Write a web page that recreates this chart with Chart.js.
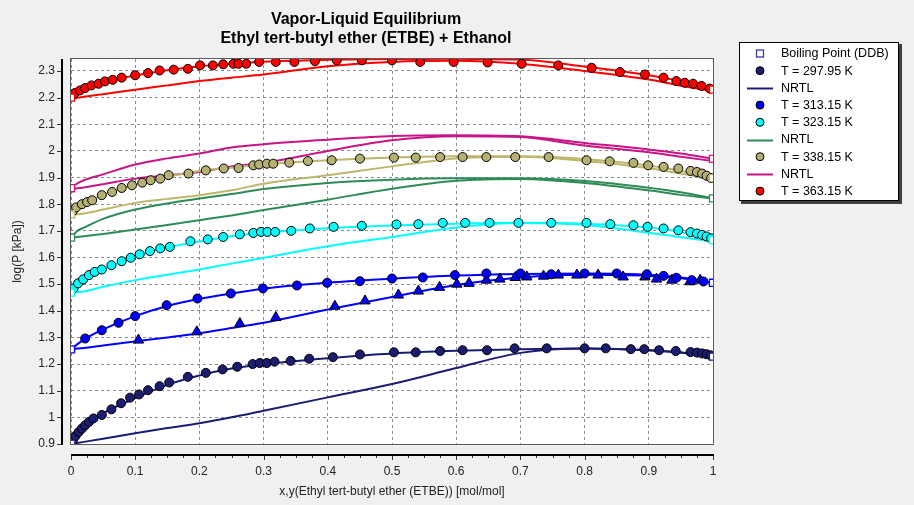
<!DOCTYPE html>
<html>
<head>
<meta charset="utf-8">
<script src="https://cdn.jsdelivr.net/npm/chart.js@4.4.1/dist/chart.umd.min.js"></script>
<style>
html,body{margin:0;padding:0;background:#f0f0f0;}
#wrap{width:914px;height:505px;position:relative;}
</style>
</head>
<body>
<div id="wrap"><canvas id="c" width="914" height="505"></canvas></div>
<script>
// ---------- text ----------
const titleLines = ['Vapor-Liquid Equilibrium', 'Ethyl tert-butyl ether (ETBE) + Ethanol'];
const xAxisTitle = 'x,y(Ethyl tert-butyl ether (ETBE)) [mol/mol]';
const yAxisTitle = 'log(P [kPa])';

// ---------- ticks ----------
const xTicks = [0, 0.1, 0.2, 0.3, 0.4, 0.5, 0.6, 0.7, 0.8, 0.9, 1];
const xTickLabels = ['0', '0.1', '0.2', '0.3', '0.4', '0.5', '0.6', '0.7', '0.8', '0.9', '1'];
const yTicks = [0.9, 1.0, 1.1, 1.2, 1.3, 1.4, 1.5, 1.6, 1.7, 1.8, 1.9, 2.0, 2.1, 2.2, 2.3];
const yTickLabels = ['0.9', '1', '1.1', '1.2', '1.3', '1.4', '1.5', '1.6', '1.7', '1.8', '1.9', '2', '2.1', '2.2', '2.3'];

// ---------- boiling points (pure components) ----------
const bpX = [0, 0, 0, 0, 0, 0, 0, 1, 1, 1, 1, 1, 1, 1];
const bpY = [0.90, 1.255, 1.468, 1.675, 1.762, 1.860, 2.200, 1.228, 1.505, 1.665, 1.822, 1.898, 1.970, 2.230];

// ---------- experimental points ----------
const pts29795_x = [0.003,0.007,0.012,0.017,0.022,0.028,0.035,0.048,0.063,0.078,0.092,0.106,0.120,0.138,0.153,0.182,0.210,0.236,0.259,0.283,0.294,0.305,0.317,0.342,0.371,0.408,0.450,0.503,0.537,0.575,0.610,0.648,0.691,0.741,0.800,0.833,0.872,0.893,0.916,0.942,0.965,0.975,0.983,0.990,0.996];
const pts29795_y = [0.915,0.930,0.945,0.958,0.970,0.983,0.996,1.009,1.030,1.053,1.074,1.086,1.102,1.117,1.131,1.152,1.167,1.180,1.190,1.200,1.204,1.204,1.209,1.212,1.220,1.226,1.236,1.244,1.244,1.249,1.252,1.252,1.259,1.259,1.259,1.259,1.256,1.256,1.252,1.249,1.245,1.243,1.240,1.237,1.233];

const pts31315_x = [0.022,0.048,0.074,0.100,0.149,0.197,0.249,0.299,0.352,0.399,0.450,0.500,0.548,0.598,0.647,0.700,0.748,0.800,0.850,0.897,0.923,0.943,0.967,0.985];
const pts31315_y = [1.296,1.327,1.355,1.380,1.421,1.446,1.465,1.484,1.495,1.505,1.511,1.521,1.525,1.534,1.540,1.540,1.537,1.540,1.540,1.537,1.531,1.524,1.515,1.510];
const vap31315_x = [0.105,0.196,0.263,0.319,0.411,0.458,0.510,0.541,0.574,0.601,0.620,0.647,0.668,0.692,0.710,0.736,0.759,0.788,0.821,0.860,0.894,0.912,0.936,0.964,0.980];
const vap31315_y = [1.290,1.321,1.352,1.375,1.417,1.437,1.459,1.474,1.488,1.500,1.503,1.515,1.519,1.525,1.527,1.530,1.534,1.534,1.534,1.527,1.527,1.519,1.515,1.509,1.515];

const pts32315_x = [0.004,0.011,0.019,0.028,0.037,0.048,0.063,0.079,0.093,0.107,0.123,0.139,0.154,0.186,0.213,0.237,0.263,0.284,0.296,0.306,0.318,0.343,0.372,0.409,0.453,0.507,0.541,0.579,0.614,0.652,0.697,0.748,0.803,0.840,0.876,0.898,0.923,0.946,0.965,0.975,0.983,0.990,0.997];
const pts32315_y = [1.484,1.503,1.518,1.534,1.546,1.555,1.571,1.586,1.599,1.612,1.624,1.634,1.640,1.661,1.668,1.677,1.687,1.692,1.696,1.696,1.696,1.700,1.709,1.715,1.719,1.724,1.725,1.730,1.730,1.730,1.730,1.730,1.730,1.725,1.721,1.715,1.709,1.702,1.695,1.690,1.685,1.679,1.672];

const pts33815_x = [0.003,0.008,0.017,0.025,0.033,0.048,0.064,0.079,0.095,0.111,0.124,0.139,0.152,0.183,0.210,0.238,0.261,0.284,0.293,0.305,0.315,0.340,0.369,0.406,0.450,0.503,0.537,0.575,0.610,0.647,0.692,0.744,0.803,0.839,0.876,0.899,0.923,0.946,0.965,0.975,0.983,0.990,0.997];
const pts33815_y = [1.775,1.788,1.800,1.808,1.815,1.834,1.846,1.861,1.871,1.881,1.890,1.896,1.909,1.915,1.927,1.934,1.936,1.946,1.949,1.952,1.952,1.956,1.962,1.965,1.971,1.975,1.975,1.977,1.977,1.977,1.977,1.977,1.965,1.961,1.955,1.946,1.940,1.934,1.925,1.921,1.915,1.907,1.898];

const pts36315_x = [0.002,0.006,0.014,0.022,0.032,0.043,0.053,0.065,0.079,0.100,0.120,0.138,0.160,0.182,0.201,0.221,0.237,0.253,0.261,0.273,0.293,0.319,0.348,0.380,0.414,0.453,0.500,0.544,0.596,0.649,0.702,0.759,0.811,0.855,0.894,0.923,0.943,0.956,0.969,0.982,0.995];
const pts36315_y = [2.209,2.217,2.227,2.236,2.246,2.252,2.261,2.267,2.275,2.284,2.292,2.302,2.305,2.308,2.321,2.321,2.325,2.327,2.327,2.327,2.334,2.334,2.334,2.337,2.340,2.340,2.340,2.334,2.334,2.332,2.327,2.321,2.312,2.296,2.287,2.275,2.262,2.256,2.252,2.244,2.234];

// ---------- NRTL model curves (bubble = liquid, dew = vapour) ----------
const nrtlX = [0, 0.01, 0.02, 0.05, 0.1, 0.15, 0.2, 0.25, 0.3, 0.4, 0.5, 0.6, 0.7, 0.8, 0.9, 0.95, 1];
const nrtl29795_bubble = [0.900,0.935,0.962,1.015,1.072,1.122,1.157,1.183,1.199,1.222,1.240,1.250,1.256,1.258,1.252,1.243,1.228];
const nrtl29795_dew    = [0.900,0.904,0.908,0.920,0.940,0.960,0.978,1.000,1.025,1.075,1.125,1.185,1.242,1.258,1.252,1.243,1.228];
const nrtl31315_bubble = [1.255,1.275,1.292,1.330,1.380,1.418,1.445,1.465,1.483,1.505,1.520,1.532,1.538,1.540,1.535,1.525,1.505];
const nrtl31315_dew    = [1.255,1.258,1.260,1.270,1.285,1.300,1.316,1.335,1.355,1.405,1.452,1.497,1.525,1.535,1.531,1.522,1.505];
const nrtl32315_bubble = [1.468,1.500,1.518,1.555,1.603,1.638,1.660,1.680,1.693,1.710,1.720,1.727,1.730,1.727,1.713,1.696,1.665];
const nrtl32315_dew    = [1.468,1.470,1.472,1.490,1.515,1.535,1.555,1.577,1.599,1.642,1.677,1.713,1.729,1.722,1.693,1.676,1.660];
const nrtlG_bubble     = [1.675,1.700,1.712,1.745,1.780,1.803,1.821,1.838,1.857,1.880,1.892,1.897,1.897,1.887,1.862,1.845,1.822];
const nrtlG_dew        = [1.675,1.677,1.680,1.688,1.705,1.722,1.740,1.758,1.778,1.817,1.858,1.888,1.895,1.880,1.852,1.835,1.822];
const nrtl33815_bubble = [1.763,1.785,1.800,1.835,1.873,1.903,1.925,1.937,1.950,1.965,1.975,1.980,1.980,1.970,1.945,1.925,1.898];
const nrtl33815_dew    = [1.760,1.762,1.765,1.780,1.805,1.820,1.834,1.852,1.877,1.909,1.942,1.972,1.978,1.962,1.935,1.915,1.895];
const nrtlP_bubble     = [1.862,1.878,1.890,1.912,1.949,1.972,1.990,2.013,2.025,2.042,2.056,2.059,2.055,2.030,2.005,1.990,1.970];
const nrtlP_dew        = [1.858,1.860,1.863,1.875,1.896,1.908,1.921,1.942,1.955,2.000,2.040,2.055,2.052,2.020,1.995,1.978,1.962];
const nrtl36315_bubble = [2.202,2.222,2.233,2.258,2.283,2.303,2.318,2.327,2.335,2.342,2.345,2.346,2.343,2.317,2.284,2.262,2.235];
const nrtl36315_dew    = [2.198,2.200,2.203,2.213,2.230,2.246,2.262,2.275,2.287,2.318,2.334,2.338,2.327,2.300,2.268,2.245,2.225];

// ---------- helpers ----------
const xy = (xs, ys) => xs.map((x, i) => ({x: x, y: ys[i]}));
const FONT = '"Liberation Sans", Arial, sans-serif';
const C = {
  navy: '#1c1c72', blue: '#0000ff', cyan: '#00ffff', green: '#2e8b57',
  khakiPt: '#b7b073', khaki: '#bdb76b', pink: '#c71585', red: '#ff0000', bp: '#3a3aa8'
};
const bpColors = [C.bp, C.blue, C.cyan, C.green, C.khaki, C.pink, C.red, C.navy, C.blue, C.cyan, C.green, C.khaki, C.pink, C.red];

function pts(label, data, color, style, legend) {
  return {label: label, data: data, showLine: false, pointStyle: style || 'circle',
    pointRadius: style === 'triangle' ? 6 : 4.5, pointHoverRadius: 4.5,
    pointBackgroundColor: color, pointBorderColor: '#000', pointBorderWidth: 1,
    backgroundColor: color, borderColor: '#000', legendItem: legend};
}
function line(label, data, color, legend) {
  return {label: label, data: data, showLine: true, pointRadius: 0, pointHoverRadius: 0,
    borderColor: color, backgroundColor: color, borderWidth: 2, fill: false,
    cubicInterpolationMode: 'monotone', legendItem: legend};
}

const datasets = [
  {label: 'Boiling Point (DDB)', data: xy(bpX, bpY), showLine: false, pointStyle: 'rect',
   pointRadius: 5, pointBackgroundColor: '#ffffff', pointBorderColor: bpColors, pointBorderWidth: 1.3,
   legendItem: {kind: 'rect', color: C.bp}},
  pts('T = 297.95 K', xy(pts29795_x, pts29795_y), C.navy, 'circle', {kind: 'circle', color: C.navy}),
  line('NRTL', xy(nrtlX, nrtl29795_bubble), C.navy, {kind: 'line', color: C.navy}),
  pts('T = 313.15 K', xy(pts31315_x, pts31315_y), C.blue, 'circle', {kind: 'circle', color: C.blue}),
  pts('T = 323.15 K', xy(pts32315_x, pts32315_y), C.cyan, 'circle', {kind: 'circle', color: C.cyan}),
  line('NRTL', xy(nrtlX, nrtlG_bubble), C.green, {kind: 'line', color: C.green}),
  pts('T = 338.15 K', xy(pts33815_x, pts33815_y), C.khakiPt, 'circle', {kind: 'circle', color: C.khakiPt}),
  line('NRTL', xy(nrtlX, nrtlP_bubble), C.pink, {kind: 'line', color: C.pink}),
  pts('T = 363.15 K', xy(pts36315_x, pts36315_y), C.red, 'circle', {kind: 'circle', color: C.red}),
  pts('y 313.15 K', xy(vap31315_x, vap31315_y), C.blue, 'triangle', null),
  line('NRTL dew 297.95', xy(nrtlX, nrtl29795_dew), C.navy, null),
  line('NRTL 313.15', xy(nrtlX, nrtl31315_bubble), C.blue, null),
  line('NRTL dew 313.15', xy(nrtlX, nrtl31315_dew), C.blue, null),
  line('NRTL 323.15', xy(nrtlX, nrtl32315_bubble), C.cyan, null),
  line('NRTL dew 323.15', xy(nrtlX, nrtl32315_dew), C.cyan, null),
  line('NRTL dew G', xy(nrtlX, nrtlG_dew), C.green, null),
  line('NRTL 338.15', xy(nrtlX, nrtl33815_bubble), C.khaki, null),
  line('NRTL dew 338.15', xy(nrtlX, nrtl33815_dew), C.khaki, null),
  line('NRTL dew P', xy(nrtlX, nrtlP_dew), C.pink, null),
  line('NRTL 363.15', xy(nrtlX, nrtl36315_bubble), C.red, null),
  line('NRTL dew 363.15', xy(nrtlX, nrtl36315_dew), C.red, null)
];

const labelFor = (vals, labels) => (v) => {
  const i = vals.findIndex(t => Math.abs(t - v) < 1e-9);
  return i >= 0 ? labels[i] : '';
};

// ---------- custom drawing: background, frame, axes lines, title, legend ----------
const decor = {
  id: 'decor',
  beforeDraw(chart) {
    const {ctx, chartArea: a} = chart;
    ctx.save();
    ctx.fillStyle = '#f0f0f0';
    ctx.fillRect(0, 0, chart.width, chart.height);
    ctx.fillStyle = '#ffffff';
    ctx.fillRect(a.left, a.top, a.right - a.left, a.bottom - a.top);
    ctx.restore();
  },
  afterDraw(chart) {
    const {ctx, chartArea: a, scales} = chart;
    ctx.save();
    // plot frame
    ctx.strokeStyle = '#5a5a5a';
    ctx.lineWidth = 1;
    ctx.strokeRect(a.left - 0.5, a.top - 0.5, a.right - a.left + 1, a.bottom - a.top + 1);
    // y axis line + ticks
    const yAx = a.left - 10;
    ctx.fillStyle = '#000';
    ctx.fillRect(yAx, a.top, 2, a.bottom - a.top + 1);
    ctx.fillStyle = '#333';
    yTicks.forEach(v => {
      const py = Math.round(scales.y.getPixelForValue(v));
      ctx.fillRect(yAx - 4, py, 4, 1);
    });
    // x axis line + ticks
    const xAy = a.bottom + 10;
    ctx.fillStyle = '#000';
    ctx.fillRect(a.left, xAy, a.right - a.left + 1, 2);
    ctx.fillStyle = '#333';
    for (let k = 0; k <= 40; k++) {
      const px = Math.round(scales.x.getPixelForValue(k / 40));
      ctx.fillRect(px, xAy + 2, 1, k % 4 === 0 ? 4 : 2);
    }
    // title
    ctx.fillStyle = '#000';
    ctx.textAlign = 'center';
    ctx.textBaseline = 'middle';
    ctx.font = 'bold 16px ' + FONT;
    ctx.fillText(titleLines[0], 366, 20);
    ctx.fillText(titleLines[1], 366, 39);
    // legend
    const items = chart.data.datasets.filter(d => d.legendItem);
    const bx = 739, by = 42, bw = 160, bh = 159;
    ctx.fillStyle = '#404040';
    ctx.fillRect(bx + 2, by + 2, bw + 1, bh + 1);
    ctx.fillStyle = '#ffffff';
    ctx.fillRect(bx, by, bw, bh);
    ctx.strokeStyle = '#000';
    ctx.lineWidth = 1;
    ctx.strokeRect(bx + 0.5, by + 0.5, bw - 1, bh - 1);
    ctx.font = '12.5px ' + FONT;
    ctx.textAlign = 'left';
    ctx.textBaseline = 'middle';
    items.forEach((d, i) => {
      const cy = 53.5 + i * 17.2;
      const it = d.legendItem;
      if (it.kind === 'line') {
        ctx.strokeStyle = it.color; ctx.lineWidth = 2;
        ctx.beginPath(); ctx.moveTo(747, Math.round(cy) + 0.5); ctx.lineTo(773, Math.round(cy) + 0.5); ctx.stroke();
      } else if (it.kind === 'rect') {
        ctx.fillStyle = '#fff'; ctx.strokeStyle = it.color; ctx.lineWidth = 1.3;
        ctx.fillRect(756, cy - 4, 8, 8);
        ctx.strokeRect(756.5, cy - 3.5, 7, 7);
      } else {
        ctx.fillStyle = it.color; ctx.strokeStyle = '#000'; ctx.lineWidth = 1;
        ctx.beginPath(); ctx.arc(760, cy, 4, 0, Math.PI * 2); ctx.fill(); ctx.stroke();
      }
      ctx.fillStyle = '#000';
      ctx.fillText(d.label, 781, cy + 0.5);
    });
    ctx.restore();
  }
};

new Chart(document.getElementById('c'), {
  type: 'scatter',
  data: {datasets: datasets},
  plugins: [decor],
  options: {
    responsive: false,
    animation: false,
    devicePixelRatio: 1,
    layout: {padding: {left: 0, right: 201, top: 59, bottom: 0}},
    plugins: {legend: {display: false}, title: {display: false}, tooltip: {enabled: false}},
    scales: {
      x: {
        type: 'linear', min: 0, max: 1,
        afterBuildTicks: s => { s.ticks = xTicks.map(v => ({value: v})); },
        afterFit: s => { s.height = 61; },
        ticks: {callback: labelFor(xTicks, xTickLabels), padding: 20, maxRotation: 0, autoSkip: false,
                color: '#222', font: {family: FONT, size: 12}},
        grid: {color: '#8c8c8c', lineWidth: 1, drawTicks: false},
        border: {display: false, dash: [3, 3]},
        title: {display: true, text: xAxisTitle, color: '#222', font: {family: FONT, size: 12},
                padding: {top: 0, bottom: 6}}
      },
      y: {
        type: 'linear', min: 0.9, max: 2.345,
        afterBuildTicks: s => { s.ticks = yTicks.map(v => ({value: v})); },
        afterFit: s => { s.width = 71; },
        ticks: {callback: labelFor(yTicks, yTickLabels), padding: 16, autoSkip: false,
                color: '#222', font: {family: FONT, size: 12}},
        grid: {color: '#8c8c8c', lineWidth: 1, drawTicks: false},
        border: {display: false, dash: [3, 3]},
        title: {display: true, text: yAxisTitle, color: '#222', font: {family: FONT, size: 12},
                padding: {top: 10, bottom: 0}}
      }
    }
  }
});
</script>
</body>
</html>
